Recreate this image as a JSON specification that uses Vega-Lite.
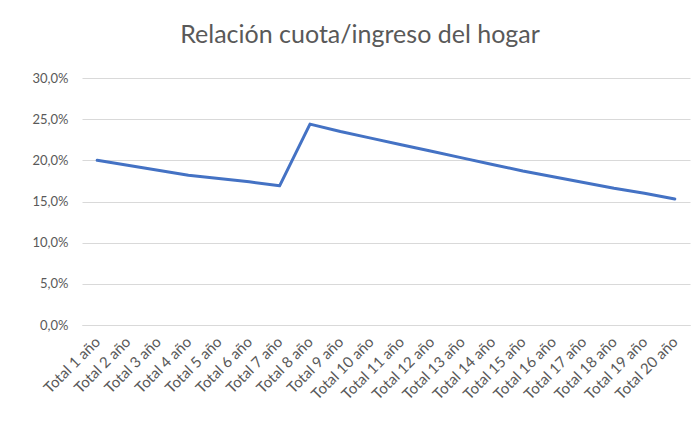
{
  "$schema": "https://vega.github.io/schema/vega-lite/v6.json",
  "autosize": "none",
  "width": 608,
  "height": 247,
  "padding": {"left": 82, "top": 78, "right": 5, "bottom": 99},
  "background": "white",
  "title": {
    "text": "Relación cuota/ingreso del hogar",
    "font": "Lato",
    "fontSize": 25,
    "fontWeight": "normal",
    "color": "#595959",
    "anchor": "middle",
    "frame": "group",
    "baseline": "alphabetic",
    "offset": 4,
    "dx": -26
  },
  "config": {
    "locale": {"number": {"decimal": ",", "thousands": ".", "grouping": [3], "currency": ["", " €"]}},
    "view": {"stroke": null},
    "axis": {"labelFont": "Lato", "labelFontSize": 13, "labelColor": "#595959"}
  },
  "data": {
    "values": [
      {"periodo": "Total 1 año", "ratio": 0.200},
      {"periodo": "Total 2 año", "ratio": 0.194},
      {"periodo": "Total 3 año", "ratio": 0.188},
      {"periodo": "Total 4 año", "ratio": 0.182},
      {"periodo": "Total 5 año", "ratio": 0.178},
      {"periodo": "Total 6 año", "ratio": 0.174},
      {"periodo": "Total 7 año", "ratio": 0.169},
      {"periodo": "Total 8 año", "ratio": 0.244},
      {"periodo": "Total 9 año", "ratio": 0.235},
      {"periodo": "Total 10 año", "ratio": 0.227},
      {"periodo": "Total 11 año", "ratio": 0.219},
      {"periodo": "Total 12 año", "ratio": 0.211},
      {"periodo": "Total 13 año", "ratio": 0.203},
      {"periodo": "Total 14 año", "ratio": 0.195},
      {"periodo": "Total 15 año", "ratio": 0.187},
      {"periodo": "Total 16 año", "ratio": 0.180},
      {"periodo": "Total 17 año", "ratio": 0.173},
      {"periodo": "Total 18 año", "ratio": 0.166},
      {"periodo": "Total 19 año", "ratio": 0.160},
      {"periodo": "Total 20 año", "ratio": 0.153}
    ]
  },
  "mark": {"type": "line", "color": "#4472C4", "strokeWidth": 3, "strokeCap": "round", "strokeJoin": "round"},
  "encoding": {
    "x": {
      "field": "periodo",
      "type": "ordinal",
      "sort": null,
      "scale": {"type": "point", "padding": 0.5},
      "axis": {
        "title": null,
        "labelAngle": -45,
        "labelAlign": "right",
        "labelBaseline": "middle",
        "labelPadding": 14,
        "labelFontSize": 15,
        "ticks": false,
        "domain": true,
        "domainColor": "#d9d9d9",
        "grid": false
      }
    },
    "y": {
      "field": "ratio",
      "type": "quantitative",
      "scale": {"domain": [0, 0.3]},
      "axis": {
        "title": null,
        "format": ".1%",
        "values": [0, 0.05, 0.1, 0.15, 0.2, 0.25, 0.3],
        "domain": false,
        "ticks": false,
        "labelPadding": 14,
        "gridColor": "#d9d9d9",
        "gridWidth": 1
      }
    }
  }
}
